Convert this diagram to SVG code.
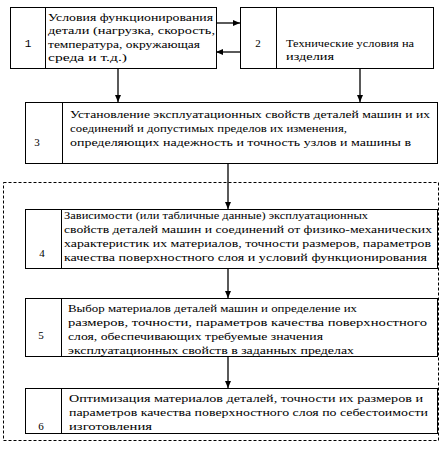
<svg xmlns="http://www.w3.org/2000/svg" width="443" height="451" viewBox="0 0 443 451">
<defs>
<marker id="ah" markerWidth="8" markerHeight="8" refX="7" refY="4" orient="auto" markerUnits="userSpaceOnUse"><path d="M0,1 L7,4 L0,7 Z" fill="#000"/></marker>
</defs>
<style>
.box{fill:#fff;stroke:#000;stroke-width:1}
.div{stroke:#000;stroke-width:1}
.c{stroke:#000;stroke-width:1.3;fill:none;marker-end:url(#ah)}
.dash{fill:none;stroke:#000;stroke-width:1;stroke-dasharray:3,2}
</style>
<rect width="443" height="451" fill="#fff"/>
<rect class="dash" x="3.5" y="182.5" width="435" height="258"/>
<g id="connectors">
<line class="c" x1="216" y1="23" x2="240" y2="23"/>
<line class="c" x1="240" y1="52" x2="216" y2="52"/>
<line class="c" x1="118" y1="68" x2="118" y2="102"/>
<line class="c" x1="360" y1="68" x2="360" y2="102"/>
<line class="c" x1="228" y1="164" x2="228" y2="209"/>
<line class="c" x1="228" y1="269" x2="228" y2="298"/>
<line class="c" x1="228" y1="357" x2="228" y2="388"/>
</g>
<g font-family="Liberation Serif, DejaVu Serif, serif" font-size="11" fill="#000" lengthAdjust="spacingAndGlyphs">
<g id="node1">
<rect class="box" x="10.5" y="7.5" width="206" height="61"/>
<line class="div" x1="45.5" y1="7.5" x2="45.5" y2="68.5"/>
<text x="28" y="47" text-anchor="middle" font-family="Liberation Mono, monospace">1</text>
<text x="48" y="21" textLength="165" lengthAdjust="spacingAndGlyphs">Условия функционирования</text>
<text x="48" y="34" textLength="167" lengthAdjust="spacingAndGlyphs">детали (нагрузка, скорость,</text>
<text x="48" y="48" textLength="152" lengthAdjust="spacingAndGlyphs">температура, окружающая</text>
<text x="48" y="61" textLength="79" lengthAdjust="spacingAndGlyphs">среда и т.д.)</text>
</g>
<g id="node2">
<rect class="box" x="240.5" y="7.5" width="193" height="61"/>
<line class="div" x1="276.5" y1="7.5" x2="276.5" y2="68.5"/>
<text x="258" y="47" text-anchor="middle">2</text>
<text x="286" y="47" textLength="128" lengthAdjust="spacingAndGlyphs">Технические условия на</text>
<text x="286" y="60" textLength="48" lengthAdjust="spacingAndGlyphs">изделия</text>
</g>
<g id="node3">
<rect class="box" x="25.5" y="102.5" width="412" height="61"/>
<line class="div" x1="62.5" y1="102.5" x2="62.5" y2="163.5"/>
<text x="37" y="146" text-anchor="middle">3</text>
<text x="70" y="118" textLength="360" lengthAdjust="spacingAndGlyphs">Установление эксплуатационных свойств деталей машин и их</text>
<text x="70" y="132" textLength="277" lengthAdjust="spacingAndGlyphs">соединений и допустимых пределов их изменения,</text>
<text x="70" y="146" textLength="341" lengthAdjust="spacingAndGlyphs">определяющих надежность и точность узлов и машины в</text>
</g>
<g id="node4">
<rect class="box" x="25.5" y="209.5" width="412" height="59"/>
<line class="div" x1="61.5" y1="209.5" x2="61.5" y2="268.5"/>
<text x="42" y="257" text-anchor="middle">4</text>
<text x="64" y="219" textLength="304" lengthAdjust="spacingAndGlyphs">Зависимости (или табличные данные) эксплуатационных</text>
<text x="64" y="233" textLength="368" lengthAdjust="spacingAndGlyphs">свойств деталей машин и соединений от физико-механических</text>
<text x="64" y="247" textLength="367" lengthAdjust="spacingAndGlyphs">характеристик их материалов, точности размеров, параметров</text>
<text x="64" y="261" textLength="363" lengthAdjust="spacingAndGlyphs">качества поверхностного слоя и условий функционирования</text>
</g>
<g id="node5">
<rect class="box" x="25.5" y="298.5" width="412" height="58"/>
<line class="div" x1="61.5" y1="298.5" x2="61.5" y2="356.5"/>
<text x="41" y="339" text-anchor="middle">5</text>
<text x="68" y="312" textLength="289" lengthAdjust="spacingAndGlyphs">Выбор материалов деталей машин и определение их</text>
<text x="68" y="326" textLength="359" lengthAdjust="spacingAndGlyphs">размеров, точности, параметров качества поверхностного</text>
<text x="68" y="340" textLength="255" lengthAdjust="spacingAndGlyphs">слоя, обеспечивающих требуемые значения</text>
<text x="68" y="354" textLength="286" lengthAdjust="spacingAndGlyphs">эксплуатационных свойств в заданных пределах</text>
</g>
<g id="node6">
<rect class="box" x="25.5" y="388.5" width="412" height="45"/>
<line class="div" x1="61.5" y1="388.5" x2="61.5" y2="433.5"/>
<text x="41" y="430" text-anchor="middle">6</text>
<text x="69" y="402" textLength="354" lengthAdjust="spacingAndGlyphs">Оптимизация материалов деталей, точности их размеров и</text>
<text x="69" y="416" textLength="359" lengthAdjust="spacingAndGlyphs">параметров качества поверхностного слоя по себестоимости</text>
<text x="69" y="430" textLength="83" lengthAdjust="spacingAndGlyphs">изготовления</text>
</g>
</g>
</svg>
